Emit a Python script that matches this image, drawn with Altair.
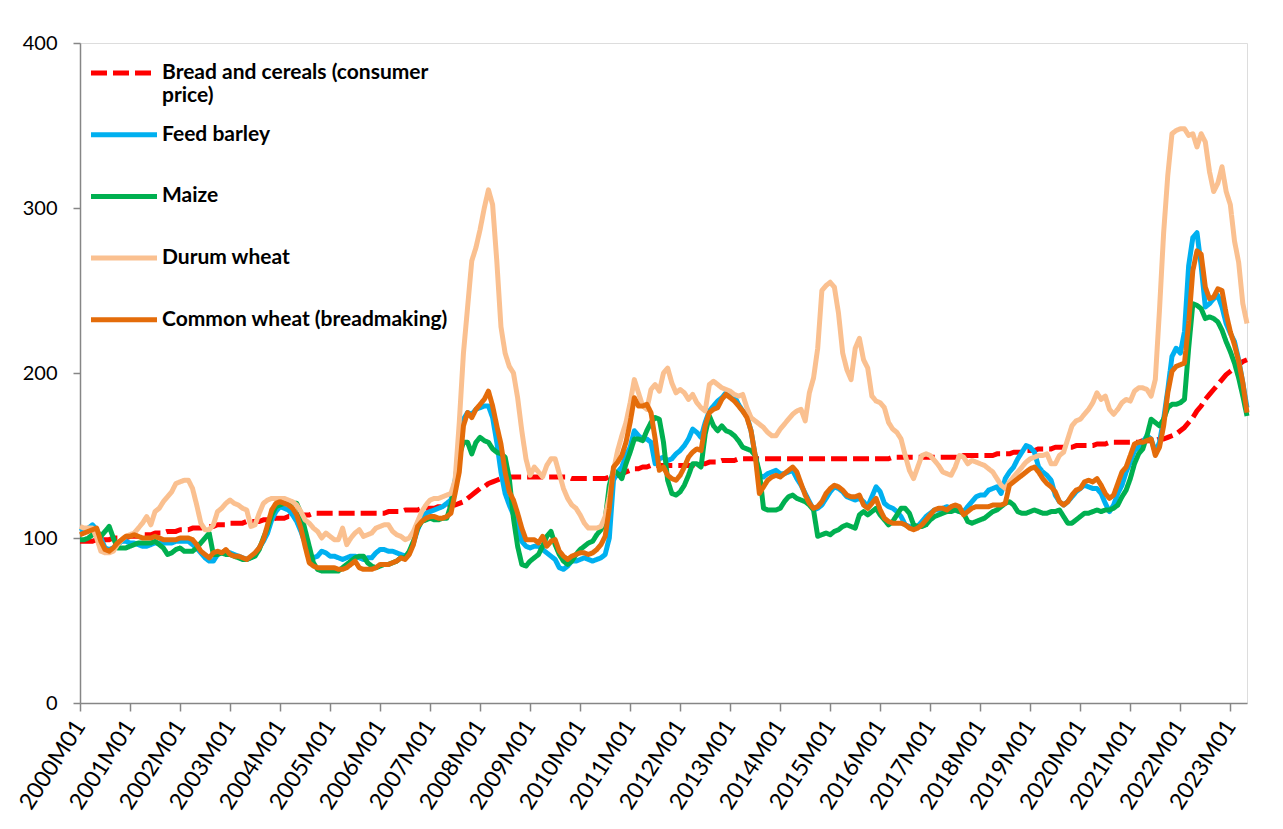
import altair as alt
import pandas as pd

years = list(range(2000, 2024))
months = [f"{y}M{m:02d}" for y in years for m in range(1, 13)][:281]
tick_labels = [f"{y}M01" for y in years]

series_names = [
    "Bread and cereals (consumer price)",
    "Feed barley",
    "Maize",
    "Durum  wheat",
    "Common wheat (breadmaking)",
]
colors = ["#FF0000", "#00B0F0", "#00B050", "#FAC090", "#E46C0A"]

bread = [
    98, 98, 98, 98, 99, 99, 99, 99, 100, 100, 100, 100,
    101, 101, 101, 102, 102, 102, 103, 103, 103, 104, 104, 104,
    105, 105, 105, 106, 106, 106, 107, 107, 107, 108, 108, 108,
    109, 109, 109, 109, 110, 110, 110, 110, 111, 111, 111, 112,
    112, 112, 113, 113, 113, 114, 114, 114, 115, 115, 115, 115,
    115, 115, 115, 115, 115, 115, 115, 115, 115, 115, 115, 115,
    115, 115, 116, 116, 116, 116, 117, 117, 117, 117, 118, 118,
    118, 118, 119, 119, 119, 120, 120, 121, 122, 124, 126, 128,
    130, 131, 133, 134, 135, 136, 136, 137, 137, 137, 137, 137,
    137, 137, 137, 137, 137, 137, 137, 137, 137, 137, 136, 136,
    136, 136, 136, 136, 136, 136, 136, 137, 137, 138, 139, 140,
    141, 142, 142, 143, 143, 144, 144, 144, 144, 144, 144, 144,
    144, 144, 144, 144, 145, 145, 145, 146, 146, 146, 147, 147,
    147, 147, 148, 148, 148, 148, 148, 148, 148, 148, 148, 148,
    148, 148, 148, 148, 148, 148, 148, 148, 148, 148, 148, 148,
    148, 148, 148, 148, 148, 148, 148, 148, 148, 148, 148, 148,
    148, 148, 148, 149, 149, 149, 149, 149, 149, 149, 149, 149,
    149, 149, 149, 149, 149, 149, 149, 149, 150, 150, 150, 150,
    150, 150, 150, 150, 151, 151, 151, 151, 152, 152, 152, 153,
    153, 153, 154, 154, 154, 154, 155, 155, 155, 155, 155, 156,
    156, 156, 156, 156, 157, 157, 157, 158, 158, 158, 158, 158,
    158, 158, 158, 159, 159, 159, 159, 160, 160, 161, 162, 163,
    165, 167, 170, 173, 177, 180, 184, 187, 190, 193, 196, 199,
    201, 203, 205, 207, 208,
]

barley = [
    104, 105, 106, 108, 105, 100, 94, 93, 94, 96, 98, 98,
    97, 97, 96, 95, 95, 96, 97, 97, 97, 97, 97, 98,
    98, 98, 98, 96, 94, 91, 88, 86, 86, 90, 91, 92,
    91, 90, 89, 88, 87, 88, 90, 94, 98, 103, 111, 116,
    119, 118, 117, 114, 110, 104, 97, 89, 88, 89, 92, 91,
    89, 89, 88, 87, 88, 89, 89, 88, 87, 88, 88, 91,
    93, 93, 92, 92, 91, 90, 89, 91, 97, 105, 111, 115,
    116, 117, 118, 119, 121, 123, 135, 152, 172, 176, 175, 178,
    179, 180, 180, 173, 158, 140, 127, 120, 114, 107, 98, 95,
    94, 95, 95, 93, 91, 89, 87, 82, 81, 83, 86, 86,
    87, 88, 87, 86, 87, 88, 90, 100, 135, 140, 143, 150,
    155, 165, 162, 160, 160, 158, 145, 148, 149, 147, 148, 151,
    153, 156, 160, 166, 164, 161, 170, 177, 180, 183, 185, 188,
    187, 186, 181, 177, 174, 165, 150, 138, 137, 139, 140, 141,
    139, 139, 140, 141, 136, 132, 127, 122, 117, 118, 120, 124,
    128, 131, 130, 128, 125, 124, 123, 124, 122, 119, 125, 131,
    128, 121, 119, 118, 116, 113, 108, 107, 106, 107, 110, 113,
    115, 117, 117, 118, 119, 118, 117, 116, 116, 119, 122, 125,
    126, 126, 129, 130, 131, 127, 136, 140, 143, 148, 152, 156,
    155, 152, 143, 140, 138, 135, 126, 122, 120, 122, 125, 128,
    130, 132, 131, 130, 130, 127, 121, 116, 120, 127, 132, 140,
    146, 153, 155, 158, 162, 160, 152, 158, 172, 190, 210, 215,
    212, 225, 265, 282, 285, 265, 240, 242, 245, 247, 240, 230,
    224, 219, 208, 194, 179,
]

maize = [
    99, 99, 100, 102, 104, 101, 104, 107, 100, 94, 94, 94,
    95, 96, 97, 97, 97, 97, 98, 96, 94, 90, 91, 93,
    94, 92, 92, 92, 94, 97, 100, 103, 90, 90, 91, 90,
    90, 89, 88, 87, 87, 88, 89, 93, 100, 106, 114, 119,
    120, 121, 121, 121, 121, 115, 105, 95, 85, 81, 80, 80,
    80, 80, 80, 82, 84, 86, 88, 89, 89, 85, 83, 82,
    83, 84, 84, 85, 86, 88, 88, 92, 98, 106, 110, 111,
    112, 111, 111, 112, 112, 120, 132, 150, 158, 158, 151, 158,
    161, 159, 158, 154, 152, 151, 149, 136, 112, 95, 84, 83,
    86, 88, 90, 95, 101, 104, 96, 90, 86, 84, 86, 90,
    93, 95, 97, 98, 102, 105, 111, 132, 141, 139, 136, 145,
    152, 160, 160, 159, 165, 170, 173, 172, 158, 135, 127, 126,
    128, 132, 138, 145, 145, 143, 163, 174, 168, 165, 168, 165,
    164, 162, 159, 155, 154, 153, 150, 140, 118, 117, 117, 117,
    118, 122, 125, 126, 124, 123, 122, 120, 117, 101, 102, 103,
    102, 104, 105, 107, 108, 107, 106, 114, 116, 114, 116, 118,
    114, 111, 108, 110, 114, 118, 118, 115, 108, 107, 107, 108,
    111, 113, 114, 115, 116, 116, 117, 116, 115, 110, 109, 110,
    111, 112, 114, 116, 117, 119, 121, 122, 120, 116, 115, 115,
    116, 117, 116, 115, 115, 116, 116, 117, 113, 109, 109, 111,
    113, 115, 115, 116, 117, 116, 117, 117, 118, 120, 125, 129,
    136, 145, 151, 154, 162, 172, 170, 168, 172, 179, 181, 181,
    182, 184, 215, 242, 241, 239, 233, 234, 233, 231, 226, 219,
    213, 206, 197, 186, 174,
]

durum = [
    107, 106, 106, 106, 100, 92, 91, 91, 92, 96, 99, 101,
    102, 103, 106, 109, 113, 108, 116, 118, 122, 125, 128, 133,
    134, 135, 135, 130, 120, 109, 105, 105, 108, 116, 118, 121,
    123, 121, 120, 118, 117, 107, 108, 115, 121, 123, 124, 124,
    124, 124, 123, 122, 120, 116, 111, 109, 106, 104, 100, 103,
    101, 99, 99, 106, 96, 100, 103, 105, 101, 102, 103, 106,
    107, 108, 108, 104, 102, 101, 99, 100, 104, 110, 116, 120,
    123, 124, 124, 125, 126, 127, 135, 170, 212, 240, 268, 276,
    287, 300, 311, 302, 268, 228, 212, 204, 200, 185, 165, 148,
    138, 143, 140, 137, 144, 148, 148, 139, 130, 124, 120, 118,
    114, 109, 106, 106, 106, 107, 113, 125, 141, 153, 162, 170,
    182, 196, 188, 180, 178, 190, 193, 189, 200, 203, 194, 188,
    190, 188, 184, 187, 182, 179, 177, 193, 195, 193, 191, 190,
    189, 187, 186, 187, 179, 173, 171, 169, 167, 164, 162, 162,
    166, 169, 172, 175, 177, 178, 171, 188, 197, 215, 250, 253,
    255, 252, 236, 212, 202, 196, 215, 221, 208, 203, 186, 183,
    182, 179, 170, 166, 164, 160, 150, 141, 136, 143, 150, 151,
    150, 147, 144, 140, 139, 138, 143, 150, 149, 145, 147, 146,
    145, 144, 142, 140, 136, 132, 130, 134, 137, 140, 143, 146,
    148, 149, 150, 150, 151, 145, 145, 150, 152, 160, 168, 171,
    172, 175, 178, 182, 188, 184, 186, 178, 175, 178, 182, 184,
    183, 189, 191, 191, 190, 186, 196, 238, 285, 320, 345, 347,
    348, 348, 344, 345, 337, 345, 340, 322, 310, 315, 325, 310,
    302, 280, 267, 242, 230,
]

common = [
    102, 103, 104, 105, 106, 98, 93, 92, 94, 97, 99, 101,
    101, 102, 101, 100, 100, 100, 101, 100, 99, 99, 99, 99,
    100, 100, 100, 99, 96, 92, 90, 88, 91, 92, 91, 93,
    90, 89, 89, 88, 87, 89, 91, 94, 99, 108, 117, 121,
    122, 121, 120, 118, 114, 106, 95, 85, 83, 82, 82, 82,
    82, 82, 81, 81, 82, 84, 86, 82, 81, 81, 81, 82,
    84, 84, 84, 85, 86, 88, 87, 90, 96, 107, 110, 112,
    113, 113, 112, 112, 113, 115, 127, 140, 168, 176, 173, 178,
    181, 184, 189, 180, 168, 157, 140, 128, 123, 115, 106, 99,
    99, 99, 97, 101, 95, 98, 99, 92, 89, 87, 89, 90,
    91, 91, 90, 91, 93, 96, 101, 118, 143, 146, 150, 158,
    170, 185, 180, 180, 181, 176, 160, 141, 143, 138, 136, 135,
    138, 143, 149, 152, 154, 153, 168, 176, 178, 179, 184, 187,
    185, 183, 180, 177, 173, 165, 150, 127, 131, 135, 137, 138,
    137, 139, 141, 143, 140, 133, 126, 121, 118, 119, 122, 127,
    130, 132, 131, 129, 126, 125, 125, 126, 120, 118, 121, 124,
    117, 112, 110, 109, 109, 109, 108, 106, 105, 106, 108, 111,
    114, 117, 118, 118, 117, 119, 120, 119, 114, 116, 118, 119,
    119, 119, 119, 120, 120, 120, 121, 132, 134, 136, 138, 140,
    142, 143, 140, 136, 133, 131, 128, 122, 120, 122, 126, 129,
    130, 134, 135, 134, 136, 132, 127, 124, 126, 133, 140, 143,
    150, 157, 158, 158, 159, 160, 150, 155, 168, 188, 201, 204,
    205, 206, 230, 262, 274, 272, 252, 245, 246, 251, 250, 236,
    225, 217, 207, 194, 176,
]

all_values = [bread, barley, maize, durum, common]
rows = []
for name, vals in zip(series_names, all_values):
    for mo, v in zip(months, vals):
        rows.append({"month": mo, "series": name, "value": v})
df = pd.DataFrame(rows)

label_expr = (
    "datum.label == 'Bread and cereals (consumer price)' ? "
    "['Bread and cereals (consumer', 'price)'] : [datum.label, '']"
)

legend = alt.Legend(
    title=None,
    orient="none",
    legendX=25,
    legendY=11,
    symbolType="M-2,0H2",
    symbolSize=1089,
    symbolStrokeWidth=5,
    labelFont="Lato",
    labelFontSize=21,
    labelFontWeight="bold",
    labelColor="#000000",
    labelOffset=19,
    labelLimit=600,
    rowPadding=9.7,
    labelExpr=label_expr,
)

chart = (
    alt.Chart(df)
    .mark_line(strokeWidth=5, strokeCap="butt", strokeJoin="round")
    .encode(
        x=alt.X(
            "month:O",
            sort=months,
            scale=alt.Scale(type="point", padding=0),
            title=None,
            axis=alt.Axis(
                values=tick_labels,
                labelAngle=303,
                labelAlign="right",
                labelBaseline="middle",
                labelFont="Lato",
                labelFontSize=23,
                labelColor="#000000",
                labelPadding=11,
                tickSize=8,
                tickColor="#868686",
                tickWidth=1.5,
                domainColor="#868686",
                domainWidth=1.5,
                grid=False,
                labelOverlap=False,
            ),
        ),
        y=alt.Y(
            "value:Q",
            scale=alt.Scale(domain=[0, 400], nice=False),
            title=None,
            axis=alt.Axis(
                values=[0, 100, 200, 300, 400],
                labelFont="Lato",
                labelFontSize=20,
                labelColor="#000000",
                labelPadding=16,
                tickSize=7,
                tickColor="#868686",
                tickWidth=1.5,
                domainColor="#868686",
                domainWidth=1.5,
                grid=False,
            ),
        ),
        color=alt.Color(
            "series:N",
            scale=alt.Scale(domain=series_names, range=colors),
            legend=legend,
        ),
        strokeDash=alt.StrokeDash(
            "series:N",
            scale=alt.Scale(
                domain=series_names,
                range=[[16, 6], [1, 0], [1, 0], [1, 0], [1, 0]],
            ),
            legend=legend,
        ),
    )
    .properties(
        width=1167,
        height=660,
        autosize=alt.AutoSizeParams(type="none"),
        padding={"left": 72, "top": 35, "right": 20, "bottom": 110},
    )
    .configure_view(stroke=None)
    .configure(background="white")
)

chart.save("out.html", embed_options={"renderer": "svg", "actions": False})
